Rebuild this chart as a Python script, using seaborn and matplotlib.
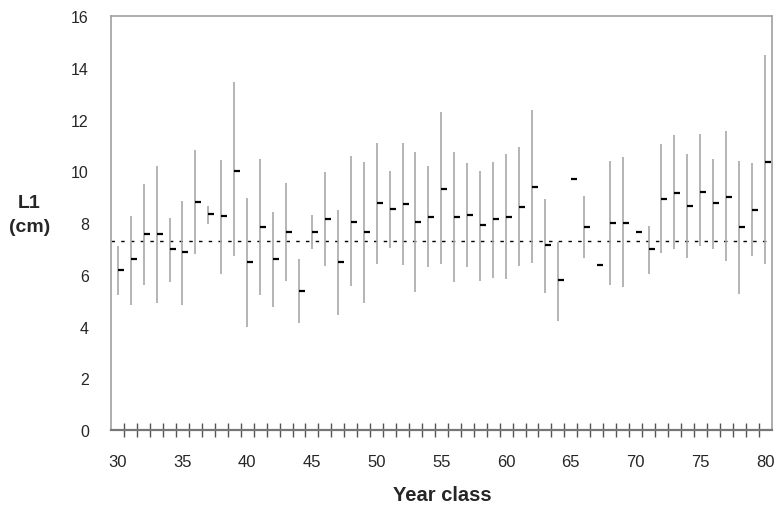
import numpy as np
import pandas as pd
import matplotlib
matplotlib.use("Agg")
import matplotlib.pyplot as plt
from matplotlib.path import Path
import seaborn as sns

years = list(range(30, 81))
means = [6.20, 6.59, 7.56, 7.56, 7.00, 6.89, 8.82, 8.36, 8.27, 10.01,
         6.49, 7.86, 6.59, 7.66, 5.39, 7.64, 8.17, 6.49, 8.04, 7.64,
         8.76, 8.53, 8.75, 8.04, 8.24, 9.30, 8.23, 8.31, 7.91, 8.14,
         8.23, 8.63, 9.41, 7.14, 5.78, 9.69, 7.84, 6.36, 8.01, 8.01,
         7.65, 7.00, 8.91, 9.17, 8.66, 9.21, 8.76, 9.02, 7.84, 8.50,
         10.34]
maxs = [7.10, 8.29, 9.50, 10.20, 8.20, 8.85, 10.83, 8.66, 10.44, 13.44,
        8.95, 10.49, 8.42, 9.53, 6.61, 8.31, 9.99, 8.50, 10.59, 10.36,
        11.09, 10.01, 11.11, 10.76, 10.21, 12.30, 10.75, 10.31, 10.01, 10.36,
        10.66, 10.92, 12.36, 8.94, 7.27, np.nan, 9.04, np.nan, 10.40, 10.57,
        np.nan, 7.88, 11.05, 11.40, 10.66, 11.43, 10.49, 11.56, 10.40, 10.31,
        14.50]
mins = [5.23, 4.84, 5.59, 4.91, 5.71, 4.84, 6.82, 7.98, 6.03, 6.72,
        3.97, 5.23, 4.75, 5.75, 4.13, 6.98, 6.33, 4.46, 5.56, 4.91,
        6.42, 7.04, 6.37, 5.32, 6.31, 6.42, 5.71, 6.31, 5.75, 5.88,
        5.84, 6.33, 6.46, 5.30, 4.20, np.nan, 6.65, np.nan, 5.62, 5.53,
        np.nan, 6.03, 6.85, 6.98, 6.65, 7.10, 6.98, 6.52, 5.26, 6.74,
        6.40]
overall_mean = 7.30
xtick_labels = ["30", "35", "40", "45", "50", "55", "60", "65", "70", "75", "80"]

df = pd.DataFrame({"year": years, "mean": means, "lo": mins, "hi": maxs})

sns.set_style("white")
plt.rcParams["font.family"] = ["Liberation Sans", "DejaVu Sans"]

fig = plt.figure(figsize=(7.78, 5.06), dpi=100)
ax = fig.add_axes([0.1427, 0.1482, 0.8496, 0.8182])

# range lines
rng = df.dropna()
ax.vlines(rng["year"], rng["lo"], rng["hi"], colors="#a8a8a8", linewidth=1.2, zorder=2)

# overall mean dashed line
ax.axhline(overall_mean, color="black", linewidth=1.0, linestyle=(0, (2.5, 4.5)), zorder=1)

# means as short dashes to the right of the range line
dash = Path([(0, 0), (1, 0)], [Path.MOVETO, Path.LINETO])
sns.scatterplot(data=df, x="year", y="mean", marker=dash, s=80, color="black",
                edgecolor="black", linewidth=1.6, ax=ax, zorder=3, legend=False)

ax.set_xlim(29.48, 80.54)
ax.set_ylim(0, 16)

ax.set_yticks(np.arange(0, 17, 2))
ax.set_yticklabels([str(v) for v in range(0, 17, 2)])
ax.tick_params(axis="y", which="major", direction="out", length=6, width=1,
               color="#888888", pad=10, labelsize=11.5)

ax.set_xticks(np.arange(30, 81, 5))
ax.set_xticklabels(xtick_labels)
ax.set_xticks(np.arange(30.5, 80, 1.0), minor=True)
ax.tick_params(axis="x", which="major", length=0, pad=17, labelsize=12)
ax.tick_params(axis="x", which="minor", direction="inout", length=10, width=1,
               color="#555555", bottom=True)

for side in ["left", "top", "right"]:
    ax.spines[side].set_color("#a0a0a0")
    ax.spines[side].set_linewidth(1.2)
ax.spines["bottom"].set_color("#777777")
ax.spines["bottom"].set_linewidth(1.6)

ax.set_xlabel("")
ax.set_ylabel("")

fig.text(442 / 778, 1 - 496 / 506, "Year class", ha="center", va="center",
         fontsize=14.5, fontweight="bold")
fig.text(29 / 778, 1 - 203 / 506, "L1", ha="center", va="center",
         fontsize=14, fontweight="bold")
fig.text(30 / 778, 1 - 228 / 506, "(cm)", ha="center", va="center",
         fontsize=14, fontweight="bold")

fig.savefig("out.png", dpi=100)
